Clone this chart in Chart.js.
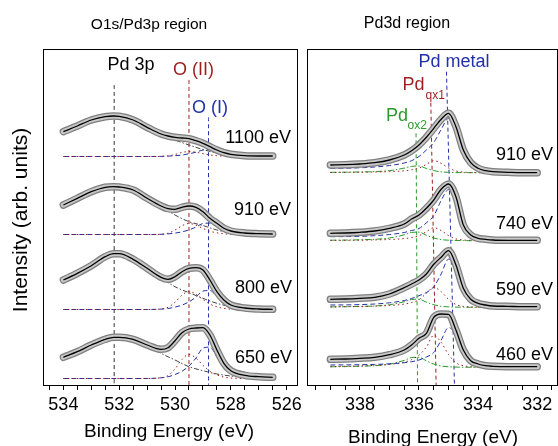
<!DOCTYPE html>
<html>
<head>
<meta charset="utf-8">
<script src="https://cdn.jsdelivr.net/npm/chart.js@4.4.0/dist/chart.umd.min.js"></script>
<style>
  html, body { margin: 0; padding: 0; background: #fff; }
  #wrap { position: relative; width: 558px; height: 446px; overflow: hidden; }
  #c1 { position: absolute; left: 0; top: 0; }
  #c2 { position: absolute; left: 300px; top: 0; }
</style>
</head>
<body>
<div id="wrap">
  <canvas id="c1" width="310" height="446" style="width:310px;height:446px"></canvas>
  <canvas id="c2" width="258" height="446" style="width:258px;height:446px"></canvas>
</div>
<script>
// ---- O1s / Pd3p region (binding energy in eV, intensity in arb. units) ----
const oBE = [534, 533.5, 533, 532.5, 532.2, 532, 531.5, 531, 530.5, 530.25, 530, 529.75, 529.5, 529.25, 529, 528.75, 528.5, 528.25, 528, 527.5, 527, 526.5];
const o1100 = [253.3, 259, 265, 268.3, 269, 268.7, 265, 257.7, 251, 249, 247.7, 247, 246.3, 244.3, 241.7, 238.3, 235, 232.3, 230.7, 229.3, 229, 229];
const o910 = [180, 186.7, 193.3, 197.7, 198.3, 198, 195, 186.7, 179, 176.3, 175.7, 177.7, 179, 177.7, 173.3, 166.7, 161.7, 156.7, 154, 152, 151.3, 151];
const o800 = [105, 111.7, 119.3, 128.3, 131.3, 131.3, 125.7, 116.7, 107.7, 105.7, 108.3, 113.3, 116.7, 117.3, 115, 105, 93.3, 85, 80, 77, 76, 75.7];
const o650 = [27.7, 33.3, 40, 45.7, 47.7, 47.7, 45.7, 40, 35.7, 37.3, 44.3, 52.3, 56, 57, 57.3, 50, 35, 21.7, 14.3, 9.7, 8.3, 7.7];

// fitted components: O (II), O (I) on the full range, Pd 3p tail on the low-BE side
const oCompBE = [534, 531, 530.5, 530.25, 530, 529.75, 529.5, 529.25, 529, 528.75, 528.5, 528.25, 528, 527.5, 527, 526.5];
const oII1100 = [228.5, 228.5, 228.7, 229.1, 230.5, 232.5, 233.5, 232.8, 231.3, 230, 229.3, 228.8, 228.6, 228.5, 228.5, 228.5];
const oI1100 = [228.5, 228.5, 228.6, 228.9, 229.3, 230, 231.2, 232.8, 234.9, 235.2, 233.1, 231, 229.6, 228.8, 228.6, 228.5];
const oII910 = [150.5, 150.5, 150.8, 151.8, 154.9, 159.3, 161.5, 159.9, 156.6, 153.8, 152.2, 151.2, 150.7, 150.5, 150.5, 150.5];
const oI910 = [150.5, 150.5, 150.7, 151.1, 151.9, 153.1, 155.1, 157.9, 161.5, 161.9, 158.3, 154.7, 152.3, 151, 150.6, 150.5];
const oII800 = [75.5, 75.5, 76.1, 77.7, 82.7, 89.9, 93.5, 90.8, 85.4, 80.9, 78.2, 76.6, 75.9, 75.5, 75.5, 75.5];
const oI800 = [75.5, 75.5, 75.9, 76.5, 77.9, 79.9, 83.1, 87.9, 93.9, 94.5, 88.5, 82.5, 78.5, 76.3, 75.7, 75.5];
const oII650 = [6.5, 6.5, 7.2, 9.4, 16.1, 25.7, 30.5, 26.9, 19.7, 13.7, 10.1, 7.9, 7, 6.5, 6.5, 6.5];
const oI650 = [6.5, 6.5, 7.2, 8.2, 10.5, 13.8, 19, 27, 36.9, 37.9, 28, 18.1, 11.5, 7.8, 6.8, 6.5];

const p3BE = [531, 530.5, 530, 529.5, 529, 528.5, 528, 527.5, 527, 526.5];
const p3_1100 = [257.7, 251, 245, 240, 235.5, 232, 230, 229.2, 228.8, 228.5];
const p3_910 = [186.7, 178.5, 170, 163.3, 159.5, 155, 152.3, 151.2, 150.8, 150.5];
const p3_800 = [116.7, 107, 98.3, 92.3, 86.7, 81.7, 78.3, 76.7, 76, 75.5];
const p3_650 = [40, 31.7, 25, 18.3, 14.3, 11, 9, 7.7, 7, 6.5];

// peak position markers (BE, top of the marker line)
const oMarkBE = [532.18, 529.5, 528.8];
const oMarkTop = [300, 305, 267.7];
const oLabels = ['1100 eV', '910 eV', '800 eV', '650 eV'];

// ---- Pd3d region ----
const pdBE = [339, 338.5, 338, 337.5, 337, 336.5, 336.25, 336, 335.75, 335.5, 335.25, 335, 334.75, 334.5, 334.25, 334, 333.75, 333.5, 333, 332.5, 332];
const d910 = [220, 220.3, 221, 222.3, 225, 230, 234.3, 240, 247.7, 256.7, 265.7, 271.7, 258.3, 235, 222.3, 216.7, 214.3, 213.3, 212.7, 212.3, 212.3];
const d740 = [151.7, 152, 152.7, 154, 156.7, 161, 166, 170, 176.7, 185, 195.7, 201, 188.3, 160, 150, 146.7, 145.7, 145, 144.7, 144.7, 144.7];
const d590 = [85.7, 86, 86.7, 87.7, 91, 97.3, 101, 105, 111, 120.7, 127.7, 134.3, 120, 96.7, 85.7, 81.7, 80, 79, 78.7, 78.3, 78.3];
const d460 = [25.7, 26, 26.7, 27.7, 30.3, 35, 40, 46.7, 51.7, 67.7, 71, 70.7, 55, 35, 24.3, 21, 19.3, 18.7, 18.3, 18.3, 18.3];

const met910 = [216.7, 216.8, 217.2, 218, 219.5, 222, 224.3, 228.5, 235, 242.6, 255.5, 266.6, 256.5, 234.3, 222.1, 216.6, 214.3, 213.3, 212.7, 212.3, 212.3];
const met740 = [148.3, 148.4, 148.7, 149.3, 150.5, 152.5, 154.5, 156.5, 162.2, 169.3, 184.5, 195.4, 186.3, 159.3, 149.7, 146.6, 145.7, 145, 144.7, 144.7, 144.7];
const met590 = [80, 80.1, 80.4, 81, 82.2, 84.5, 86.5, 89.3, 92.5, 98.2, 111.1, 125.9, 117, 95.6, 85.3, 81.5, 80, 79, 78.7, 78.3, 78.3];
const met460 = [20, 20.1, 20.3, 20.6, 21.2, 22.3, 23.3, 25, 28, 32.5, 44.8, 57.4, 50.3, 33.3, 23.7, 20.7, 19.3, 18.7, 18.3, 18.3, 18.3];

const ox1_910 = [212.5, 212.7, 212.8, 213, 213.4, 214.2, 215.2, 216.9, 220.7, 224.3, 221.7, 217.1, 214, 212.9, 212.5, 212.4, 212.3, 212.3, 212.3, 212.3, 212.3];
const ox1_740 = [144.6, 144.7, 144.8, 145.1, 145.5, 146.4, 147.4, 149.2, 153.4, 157.3, 154.4, 149.5, 146.1, 145, 144.6, 144.4, 144.3, 144.3, 144.3, 144.3, 144.3];
const ox1_590 = [78.1, 78.3, 78.5, 78.9, 79.5, 80.9, 82.5, 85.3, 91.7, 97.7, 93.3, 85.7, 80.5, 78.7, 78.1, 77.9, 77.7, 77.7, 77.7, 77.7, 77.7];
const ox1_460 = [18.3, 18.7, 19, 19.6, 20.6, 22.8, 25.4, 29.9, 38, 49.7, 42.7, 30.5, 22.2, 19.3, 18.3, 18, 17.7, 17.7, 17.7, 17.7, 17.7];

const ox2_910 = [212.7, 212.8, 213, 213.4, 214.4, 216.9, 218.7, 219, 216.5, 214.4, 213.1, 212.7, 212.4, 212.4, 212.3, 212.3, 212.3, 212.3, 212.3, 212.3, 212.3];
const ox2_740 = [144.8, 144.9, 145.2, 145.7, 147, 150.2, 152.6, 152.9, 149.7, 147, 145.4, 144.8, 144.5, 144.4, 144.3, 144.3, 144.3, 144.3, 144.3, 144.3, 144.3];
const ox2_590 = [78.1, 78.3, 78.6, 79, 80.3, 83.2, 85.5, 85.8, 82.8, 80.3, 78.7, 78.1, 77.9, 77.8, 77.7, 77.7, 77.7, 77.7, 77.7, 77.7, 77.7];
const ox2_460 = [18.2, 18.4, 18.8, 19.3, 20.9, 24.6, 27.5, 27.8, 24.1, 20.9, 19, 18.2, 17.9, 17.8, 17.7, 17.7, 17.7, 17.7, 17.7, 17.7, 17.7];

// markers are slightly tilted: BE at top, BE at bottom, top height
const pdMarkTopBE = [336.1, 335.6, 335.07];
const pdMarkBotBE = [336.05, 335.42, 334.8];
const pdMarkTop = [251.7, 282.3, 313.3];
const pdLabels = ['910 eV', '740 eV', '590 eV', '460 eV'];

const FONT = '"Liberation Sans", Arial, Helvetica, sans-serif';
const RED = '#9c1e1e', BLUE = '#2231a8', GREEN = '#2b9a2b';

function pts(xs, ys) {
  return xs.map((x, i) => ({ x: x, y: ys[i] }));
}

function curve(xs, ys, color, width, dash, order) {
  return {
    data: pts(xs, ys),
    borderColor: color,
    borderWidth: width,
    borderDash: dash || [],
    pointRadius: 0,
    fill: false,
    cubicInterpolationMode: 'monotone',
    order: order
  };
}

// measured points drawn as a band of grey circles with the black fit on top
function spectrum(xs, ys) {
  const outer = curve(xs, ys, '#7f7f7f', 7.5, null, 3);
  outer.borderCapStyle = 'round';
  const inner = curve(xs, ys, '#c8c8c8', 5, null, 2);
  inner.borderCapStyle = 'round';
  return [curve(xs, ys, '#000', 1.3, null, 1), inner, outer];
}

function marker(topBE, botBE, top, color) {
  return curve([topBE, botBE], [top, 0], color, 1, [4, 3], 6);
}

// frame and all the text that is not a tick label
function decorPlugin(items, offsetX) {
  return {
    id: 'decor',
    afterDraw(chart) {
      const ctx = chart.ctx, a = chart.chartArea;
      ctx.save();
      ctx.strokeStyle = '#000';
      ctx.lineWidth = 1;
      ctx.strokeRect(a.left + 0.5, a.top + 0.5, a.right - a.left, a.bottom - a.top);
      items.forEach(t => {
        ctx.font = (t.size || 18) + 'px ' + FONT;
        ctx.fillStyle = t.color || '#000';
        ctx.textAlign = t.align || 'center';
        ctx.textBaseline = 'middle';
        if (t.rot) {
          ctx.save();
          ctx.translate(t.x - offsetX, t.y);
          ctx.rotate(-Math.PI / 2);
          ctx.fillText(t.text, 0, 0);
          ctx.restore();
        } else {
          ctx.fillText(t.text, t.x - offsetX, t.y);
        }
      });
      ctx.restore();
    }
  };
}

function baseOptions(min, max, pad) {
  return {
    responsive: false,
    animation: false,
    events: [],
    layout: { padding: pad },
    plugins: { legend: { display: false }, tooltip: { enabled: false } },
    scales: {
      x: {
        type: 'linear',
        reverse: true,
        min: min,
        max: max,
        border: { display: false },
        grid: { drawOnChartArea: false, drawTicks: true, tickLength: 5, color: '#000', lineWidth: 1 },
        ticks: {
          stepSize: 0.5,
          includeBounds: false,
          autoSkip: false,
          maxRotation: 0,
          padding: 4,
          color: '#000',
          font: { family: FONT, size: 18 },
          callback: v => (Math.abs(v % 2) < 1e-6 ? String(v) : '')
        },
        afterFit: s => { s.height = 61; }
      },
      y: { display: false, min: 0, max: 336 }
    }
  };
}

// ---- left chart ----
const leftSets = [].concat(
  spectrum(oBE, o1100), spectrum(oBE, o910), spectrum(oBE, o800), spectrum(oBE, o650),
  [
    curve(oCompBE, oII1100, RED, 1, [1.5, 3], 5), curve(oCompBE, oI1100, BLUE, 1, [5, 3], 5),
    curve(oCompBE, oII910, RED, 1, [1.5, 3], 5), curve(oCompBE, oI910, BLUE, 1, [5, 3], 5),
    curve(oCompBE, oII800, RED, 1, [1.5, 3], 5), curve(oCompBE, oI800, BLUE, 1, [5, 3], 5),
    curve(oCompBE, oII650, RED, 1, [1.5, 3], 5), curve(oCompBE, oI650, BLUE, 1, [5, 3], 5),
    curve(p3BE, p3_1100, '#444', 1, [5, 2, 1.5, 2], 5),
    curve(p3BE, p3_910, '#444', 1, [5, 2, 1.5, 2], 5),
    curve(p3BE, p3_800, '#444', 1, [5, 2, 1.5, 2], 5),
    curve(p3BE, p3_650, '#444', 1, [5, 2, 1.5, 2], 5),
    marker(oMarkBE[0], oMarkBE[0], oMarkTop[0], '#333'),
    marker(oMarkBE[1], oMarkBE[1], oMarkTop[1], RED),
    marker(oMarkBE[2], oMarkBE[2], oMarkTop[2], BLUE)
  ]
);

const leftText = [
  { text: 'O1s/Pd3p region', x: 149, y: 25, size: 15.5 },
  { text: 'Binding Energy (eV)', x: 169, y: 432, size: 19 },
  { text: 'Intensity (arb. units)', x: 21.5, y: 220, size: 21, rot: true },
  { text: 'Pd 3p', x: 131, y: 65 },
  { text: 'O (II)', x: 193.5, y: 70, color: RED },
  { text: 'O (I)', x: 210, y: 108, color: BLUE },
  { text: oLabels[0], x: 291, y: 138, align: 'right' },
  { text: oLabels[1], x: 291, y: 210, align: 'right' },
  { text: oLabels[2], x: 292, y: 288, align: 'right' },
  { text: oLabels[3], x: 292, y: 358, align: 'right' }
];

new Chart(document.getElementById('c1'), {
  type: 'line',
  data: { datasets: leftSets },
  options: baseOptions(525.63, 534.73, { left: 43, right: 13, top: 49, bottom: 0 }),
  plugins: [decorPlugin(leftText, 0)]
});

// ---- right chart ----
const rightSets = [].concat(
  spectrum(pdBE, d910), spectrum(pdBE, d740), spectrum(pdBE, d590), spectrum(pdBE, d460),
  [
    curve(pdBE, met910, BLUE, 1, [5, 3], 5), curve(pdBE, ox1_910, RED, 1, [1.5, 3], 5), curve(pdBE, ox2_910, GREEN, 1, [6, 2, 1.5, 2], 5),
    curve(pdBE, met740, BLUE, 1, [5, 3], 5), curve(pdBE, ox1_740, RED, 1, [1.5, 3], 5), curve(pdBE, ox2_740, GREEN, 1, [6, 2, 1.5, 2], 5),
    curve(pdBE, met590, BLUE, 1, [5, 3], 5), curve(pdBE, ox1_590, RED, 1, [1.5, 3], 5), curve(pdBE, ox2_590, GREEN, 1, [6, 2, 1.5, 2], 5),
    curve(pdBE, met460, BLUE, 1, [5, 3], 5), curve(pdBE, ox1_460, RED, 1, [1.5, 3], 5), curve(pdBE, ox2_460, GREEN, 1, [6, 2, 1.5, 2], 5),
    marker(pdMarkTopBE[0], pdMarkBotBE[0], pdMarkTop[0], GREEN),
    marker(pdMarkTopBE[1], pdMarkBotBE[1], pdMarkTop[1], RED),
    marker(pdMarkTopBE[2], pdMarkBotBE[2], pdMarkTop[2], BLUE)
  ]
);

const rightText = [
  { text: 'Pd3d region', x: 407, y: 24, size: 16 },
  { text: 'Binding Energy (eV)', x: 433, y: 438, size: 19 },
  { text: 'Pd metal', x: 454, y: 62, color: BLUE },
  { text: 'Pd', x: 402.5, y: 85, color: RED, align: 'left' },
  { text: 'qx1', x: 425.5, y: 96, color: RED, align: 'left', size: 12 },
  { text: 'Pd', x: 386, y: 116, color: GREEN, align: 'left' },
  { text: 'ox2', x: 407.5, y: 126, color: GREEN, align: 'left', size: 12 },
  { text: pdLabels[0], x: 553, y: 155, align: 'right' },
  { text: pdLabels[1], x: 553, y: 224, align: 'right' },
  { text: pdLabels[2], x: 553, y: 290, align: 'right' },
  { text: pdLabels[3], x: 553, y: 355, align: 'right' }
];

new Chart(document.getElementById('c2'), {
  type: 'line',
  data: { datasets: rightSets },
  options: baseOptions(331.33, 339.79, { left: 7, right: 1, top: 49, bottom: 0 }),
  plugins: [decorPlugin(rightText, 300)]
});
</script>
</body>
</html>
